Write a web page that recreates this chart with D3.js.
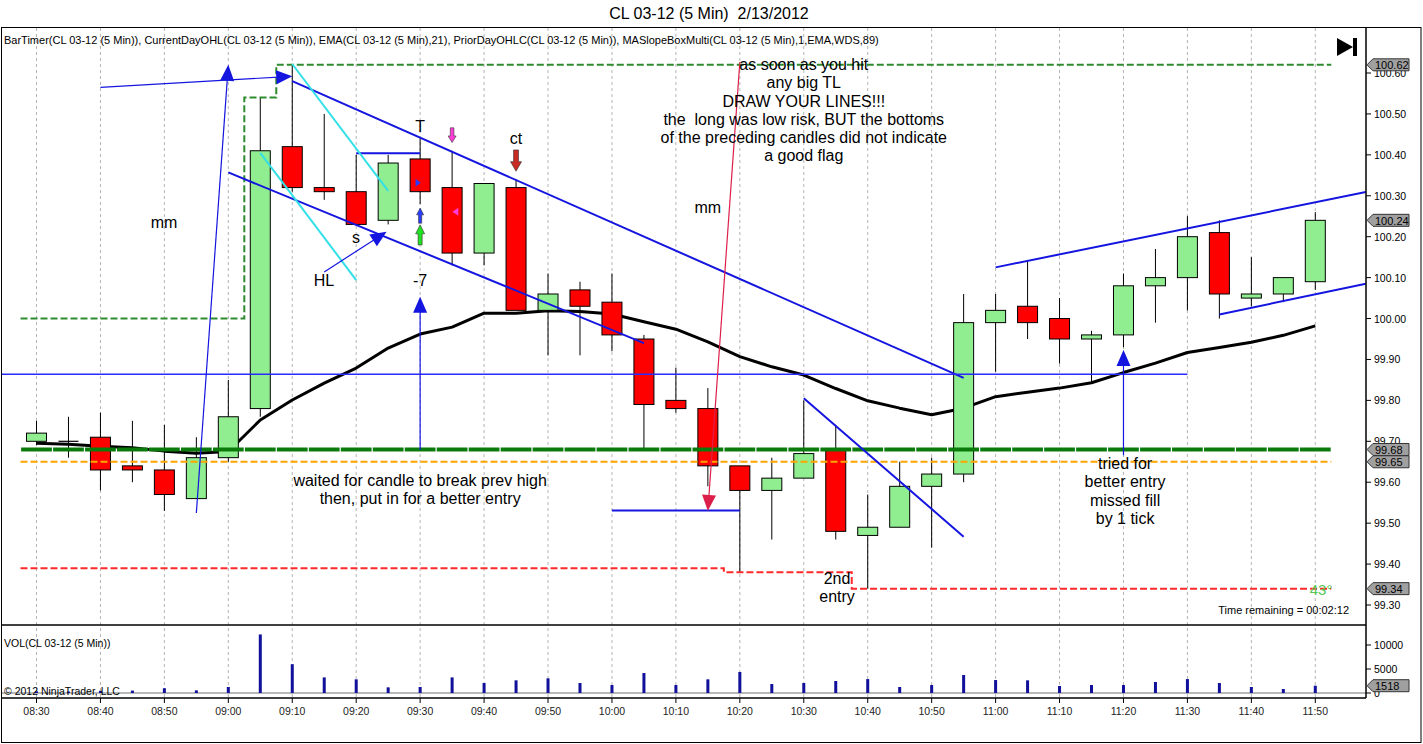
<!DOCTYPE html>
<html><head><meta charset="utf-8">
<script src="https://cdn.jsdelivr.net/npm/d3@7"></script>
<style>
body{margin:0;background:#fff;}
text{font-family:"Liberation Sans",Arial,sans-serif;white-space:pre;}
</style>
</head><body>
<svg id="c" width="1423" height="744"></svg>
<script>
// ---------------- DATA ----------------
const times = ["08:30","08:35","08:40","08:45","08:50","08:55","09:00","09:05","09:10","09:15",
  "09:20","09:25","09:30","09:35","09:40","09:45","09:50","09:55","10:00","10:05",
  "10:10","10:15","10:20","10:25","10:30","10:35","10:40","10:45","10:50","10:55",
  "11:00","11:05","11:10","11:15","11:20","11:25","11:30","11:35","11:40","11:45","11:50"];
const opens  = [99.70,99.70,99.71,99.64,99.63,99.56,99.66,99.78,100.42,100.32,
  100.31,100.24,100.39,100.32,100.16,100.32,100.02,100.07,100.04,99.95,
  99.80,99.78,99.64,99.58,99.61,99.68,99.47,99.49,99.59,99.62,
  99.99,100.03,100.00,99.95,99.96,100.08,100.10,100.21,100.05,100.06,100.09];
const highs  = [99.75,99.76,99.77,99.75,99.74,99.71,99.85,100.54,100.62,100.50,
  100.40,100.40,100.44,100.41,100.33,100.34,100.11,100.09,100.11,99.96,
  99.88,99.83,99.64,99.66,99.80,99.74,99.57,99.65,99.66,100.06,
  100.06,100.14,100.05,99.97,100.11,100.17,100.25,100.24,100.15,100.10,100.26];
const lows   = [99.69,99.66,99.58,99.60,99.53,99.56,99.65,99.76,100.31,100.29,
  100.23,100.23,100.28,100.13,100.13,100.02,99.91,99.91,99.92,99.68,
  99.77,99.59,99.38,99.46,99.61,99.46,99.34,99.49,99.44,99.60,
  99.87,99.95,99.89,99.84,99.93,99.99,100.02,100.00,100.03,100.04,100.07];
const closes = [99.72,99.70,99.63,99.63,99.57,99.66,99.76,100.41,100.32,100.31,
  100.23,100.38,100.31,100.16,100.33,100.02,100.06,100.03,99.96,99.79,
  99.78,99.64,99.58,99.61,99.67,99.48,99.49,99.59,99.62,99.99,
  100.02,99.99,99.95,99.96,100.08,100.10,100.20,100.06,100.06,100.10,100.24];
const volumes = [350,300,450,500,1000,550,1250,12200,6000,3250,
  2850,1180,1250,3250,2080,2640,3050,2080,1660,4160,
  1660,2850,4370,1870,2080,2500,2900,1250,1660,3750,
  2700,2640,1460,1660,1660,2290,2900,2080,1250,830,1518];
const ema21 = [99.695,99.693,99.688,99.684,99.676,99.671,99.675,99.752,99.801,99.842,
  99.879,99.928,99.962,99.979,100.013,100.013,100.019,100.017,100.011,99.992,
  99.974,99.943,99.907,99.882,99.862,99.829,99.799,99.781,99.765,99.781,
  99.809,99.820,99.830,99.843,99.868,99.891,99.917,99.929,99.942,99.959,99.982];
const dayHigh = [100.00,100.00,100.00,100.00,100.00,100.00,100.00,100.54,100.62,100.62,
  100.62,100.62,100.62,100.62,100.62,100.62,100.62,100.62,100.62,100.62,
  100.62,100.62,100.62,100.62,100.62,100.62,100.62,100.62,100.62,100.62,
  100.62,100.62,100.62,100.62,100.62,100.62,100.62,100.62,100.62,100.62,100.62];
const dayLow = [99.39,99.39,99.39,99.39,99.39,99.39,99.39,99.39,99.39,99.39,
  99.39,99.39,99.39,99.39,99.39,99.39,99.39,99.39,99.39,99.39,
  99.39,99.39,99.38,99.38,99.38,99.38,99.34,99.34,99.34,99.34,
  99.34,99.34,99.34,99.34,99.34,99.34,99.34,99.34,99.34,99.34,99.34];
const priorClose = 99.68;
const priorLevel = 99.65;
const priceTicks = [100.60,100.50,100.40,100.30,100.20,100.10,100.00,99.90,99.80,99.70,99.60,99.50,99.40,99.30];
const volTicks = [0,5000,10000];
const xTickLabels = ["08:30","08:40","08:50","09:00","09:10","09:20","09:30","09:40","09:50","10:00",
  "10:10","10:20","10:30","10:40","10:50","11:00","11:10","11:20","11:30","11:40","11:50"];

// drawn trend lines: [barIndex, price] pairs
const trendLines = [
  {a:[8.0,100.580], b:[29.0,99.855], w:2, c:"#1515e0"},
  {a:[6.0,100.357], b:[19.0,99.940], w:2, c:"#1515e0"},
  {a:[10.0,100.404], b:[12.0,100.404], w:2, c:"#1515e0"},
  {a:[18.0,99.531], b:[22.0,99.531], w:2, c:"#1515e0"},
  {a:[24.0,99.805], b:[29.0,99.467], w:2, c:"#1515e0"},
  {a:[30.0,100.125], b:[41.58,100.309], w:2, c:"#1515e0"},
  {a:[37.0,100.010], b:[41.58,100.085], w:2, c:"#1515e0"},
  {a:[-1.1,99.864], b:[36.0,99.864], w:1.5, c:"#2a2aff"},
  {a:[8.0,100.622], b:[11.0,100.312], w:2, c:"#33e0e8"},
  {a:[7.0,100.405], b:[10.0,100.094], w:2, c:"#33e0e8"}
];
const arrowLines = [
  {a:[2.0,100.565], b:[8.0,100.592], c:"#1515e0", w:1.2},
  {a:[5.0,99.525], b:[6.0,100.620], c:"#1515e0", w:1.2},
  {a:[9.0,100.114], b:[10.95,100.212], c:"#1515e0", w:1.2},
  {a:[12.0,99.679], b:[12.0,100.053], c:"#1515e0", w:1.2},
  {a:[34.0,99.666], b:[34.0,99.923], c:"#1515e0", w:1.2},
  {a:[22.0,100.627], b:[21.0,99.530], c:"#dc1f4a", w:1.2}
];
// indicator markers
const blockArrows = [
  {i:12, top:100.270, bot:100.233, dir:"up", fill:"#2a3cff", hw:3.5},
  {i:12, top:100.229, bot:100.180, dir:"up", fill:"#22e022", hw:4.5},
  {i:13, top:100.466, bot:100.430, dir:"down", fill:"#ff3cd8", hw:4},
  {i:15, top:100.412, bot:100.360, dir:"down", fill:"#c82a24", hw:5.5}
];
const smallTriangles = [
  {i:11.92, p:100.332, dir:"right", fill:"#2a3cff"},
  {i:13.10, p:100.261, dir:"left", fill:"#ff3cd8"}
];
const notes = [
  {i:3.99, p:100.236, lines:["mm"]},
  {i:9.99, p:100.199, lines:["s"]},
  {i:8.99, p:100.094, lines:["HL"]},
  {i:12, p:100.471, lines:["T"]},
  {i:12, p:100.094, lines:["-7"]},
  {i:15, p:100.442, lines:["ct"]},
  {i:21, p:100.273, lines:["mm"]},
  {i:24.0, p:100.622, lines:["as soon as you hit","any big TL","DRAW YOUR LINES!!!","the  long was low risk, BUT the bottoms","of the preceding candles did not indicate","a good flag"]},
  {i:12, p:99.605, lines:["waited for candle to break prev high","then, put in for a better entry"]},
  {i:25.04, p:99.366, lines:["2nd","entry"]},
  {i:34.05, p:99.647, lines:["tried for","better entry","missed fill","by 1 tick"]}
];
const slopeLabel = {i:40.18, p:99.337, text:"43°"};
const titleText = "CL 03-12 (5 Min)  2/13/2012";
const legendText = "BarTimer(CL 03-12 (5 Min)), CurrentDayOHL(CL 03-12 (5 Min)), EMA(CL 03-12 (5 Min),21), PriorDayOHLC(CL 03-12 (5 Min)), MASlopeBoxMulti(CL 03-12 (5 Min),1,EMA,WDS,89)";

// ---------------- LAYOUT ----------------
const svg = d3.select("#c");
const L = 2, R = 1366, T = 28, PB = 625, VB = 698;
const x = d3.scaleLinear().domain([0, 40]).range([36.5, 1315.3]);
const y = d3.scaleLinear().domain([99.30, 100.60]).range([605, 73]);
const yv = d3.scaleLinear().domain([0, 10000]).range([693, 645]);
const half = (x(1) - x(0)) / 2;
const bodyW = 20;

svg.append("rect").attr("width",1423).attr("height",744).attr("fill","#fff");
const defs = svg.append("defs");
defs.append("clipPath").attr("id","pc").append("rect").attr("x",L).attr("y",T).attr("width",R-L).attr("height",PB-T);

// title
svg.append("text").attr("x",709).attr("y",19).attr("text-anchor","middle")
  .style("font-size","16px").attr("fill","#000").text(titleText);

// grid lines
const gridIdx = xTickLabels.map(t => times.indexOf(t));
svg.append("g").selectAll("line").data(gridIdx).join("line")
  .attr("x1",d=>x(d)).attr("x2",d=>x(d)).attr("y1",T).attr("y2",VB)
  .attr("stroke","#b4b4b4").attr("stroke-dasharray","3,3").attr("stroke-width",1);

const P = svg.append("g").attr("clip-path","url(#pc)");

// EMA
P.append("path").datum(ema21).attr("fill","none").attr("stroke","#000").attr("stroke-width",3)
  .attr("stroke-linejoin","round")
  .attr("d", d3.line().x((d,i)=>x(i)).y(d=>y(d)));

// candles
const cg = P.append("g");
times.forEach((t,i)=>{
  cg.append("line").attr("x1",x(i)).attr("x2",x(i)).attr("y1",y(highs[i])).attr("y2",y(lows[i]))
    .attr("stroke","#000").attr("stroke-width",1);
  const o = opens[i], c = closes[i];
  if (Math.abs(o-c) < 1e-9) {
    cg.append("line").attr("x1",x(i)-bodyW/2).attr("x2",x(i)+bodyW/2).attr("y1",y(o)).attr("y2",y(o))
      .attr("stroke","#000").attr("stroke-width",1.2);
  } else {
    const top = y(Math.max(o,c)), bot = y(Math.min(o,c));
    cg.append("rect").attr("x",x(i)-bodyW/2).attr("y",top).attr("width",bodyW).attr("height",bot-top)
      .attr("fill", c>o ? "#90ee90" : "#ff0000").attr("stroke","#000").attr("stroke-width",1);
  }
});

// step level lines
function stepPts(arr){ const pts=[]; arr.forEach((v,i)=>{pts.push([x(i)-half,y(v)]);pts.push([x(i)+half,y(v)]);}); return pts; }
P.append("path").attr("d", d3.line()(stepPts(dayHigh))).attr("fill","none")
  .attr("stroke","#2e8b2e").attr("stroke-width",2).attr("stroke-dasharray","7,3");
P.append("path").attr("d", d3.line()(stepPts(dayLow))).attr("fill","none")
  .attr("stroke","#ff2a2a").attr("stroke-width",2).attr("stroke-dasharray","7,3");
// prior close (segmented per bar)
P.append("g").selectAll("line").data(times).join("line")
  .attr("x1",(d,i)=>x(i)-half+0.6).attr("x2",(d,i)=>x(i)+half-0.6)
  .attr("y1",y(priorClose)).attr("y2",y(priorClose))
  .attr("stroke","#0a7a0a").attr("stroke-width",4);
P.append("path").attr("d", d3.line()([[x(0)-half,y(priorLevel)],[x(times.length-1)+half,y(priorLevel)]]))
  .attr("stroke","#ffa500").attr("stroke-width",2).attr("stroke-dasharray","7,3");

// trend lines
P.append("g").selectAll("line").data(trendLines).join("line")
  .attr("x1",d=>x(d.a[0])).attr("y1",d=>y(d.a[1])).attr("x2",d=>x(d.b[0])).attr("y2",d=>y(d.b[1]))
  .attr("stroke",d=>d.c).attr("stroke-width",d=>d.w);

// arrow lines
arrowLines.forEach(d=>{
  const x1=x(d.a[0]), y1=y(d.a[1]), x2=x(d.b[0]), y2=y(d.b[1]);
  const len=Math.hypot(x2-x1,y2-y1), ux=(x2-x1)/len, uy=(y2-y1)/len;
  const hl=16, hw=7;
  P.append("line").attr("x1",x1).attr("y1",y1).attr("x2",x2-ux*hl*0.6).attr("y2",y2-uy*hl*0.6)
    .attr("stroke",d.c).attr("stroke-width",d.w);
  const bx=x2-ux*hl, by=y2-uy*hl;
  P.append("path").attr("d",`M${x2},${y2}L${bx-uy*hw},${by+ux*hw}L${bx+uy*hw},${by-ux*hw}Z`)
    .attr("fill",d.c);
});

// indicator arrows
blockArrows.forEach(d=>{
  const cx=x(d.i), yt=y(d.top), yb=y(d.bot), h=yb-yt, hh=h*0.45, s=d.hw*0.45;
  let p;
  if(d.dir==="up") p=`M${cx},${yt}L${cx+d.hw},${yt+hh}L${cx+s},${yt+hh}L${cx+s},${yb}L${cx-s},${yb}L${cx-s},${yt+hh}L${cx-d.hw},${yt+hh}Z`;
  else p=`M${cx},${yb}L${cx+d.hw},${yb-hh}L${cx+s},${yb-hh}L${cx+s},${yt}L${cx-s},${yt}L${cx-s},${yb-hh}L${cx-d.hw},${yb-hh}Z`;
  P.append("path").attr("d",p).attr("fill",d.fill).attr("stroke","#333").attr("stroke-width",0.6);
});
smallTriangles.forEach(d=>{
  const cx=x(d.i), cy=y(d.p);
  const p = d.dir==="right" ? `M${cx+3},${cy}L${cx-2},${cy-4}L${cx-2},${cy+4}Z` : `M${cx-3},${cy}L${cx+3},${cy-4}L${cx+3},${cy+4}Z`;
  P.append("path").attr("d",p).attr("fill",d.fill);
});

// notes
notes.forEach(n=>{
  const t = P.append("text").attr("x",x(n.i)).attr("y",y(n.p)).attr("text-anchor","middle")
    .attr("dominant-baseline","central").style("font-size","16px").attr("fill","#000");
  n.lines.forEach((ln,k)=>t.append("tspan").attr("x",x(n.i)).attr("dy",k===0?0:18.3).text(ln));
});
P.append("text").attr("x",x(slopeLabel.i)).attr("y",y(slopeLabel.p)).attr("text-anchor","middle")
  .attr("dominant-baseline","central").style("font-size","15px").attr("fill","#55c855").text(slopeLabel.text);

// legend / bar timer
svg.append("text").attr("x",4).attr("y",44).style("font-size","11px").attr("fill","#000").text(legendText);
svg.append("text").attr("x",1349).attr("y",614).attr("text-anchor","end").style("font-size","11px").attr("fill","#000")
  .text("Time remaining = 00:02:12");

// playback icon
svg.append("path").attr("d","M1337,38L1353,47L1337,56Z").attr("fill","#000");
svg.append("rect").attr("x",1353).attr("y",38).attr("width",4).attr("height",18).attr("fill","#000");

// volume panel
svg.append("line").attr("x1",L).attr("x2",R).attr("y1",yv(0)).attr("y2",yv(0)).attr("stroke","#a0a0a0").attr("stroke-width",1.5);
svg.append("g").selectAll("rect").data(volumes).join("rect")
  .attr("x",(d,i)=>x(i)-1.5).attr("width",3).attr("y",d=>yv(d)).attr("height",d=>yv(0)-yv(d))
  .attr("fill","#10109a");
svg.append("text").attr("x",4).attr("y",647).style("font-size","10.5px").attr("fill","#000").text("VOL(CL 03-12 (5 Min))");
svg.append("text").attr("x",4).attr("y",695).style("font-size","10.5px").attr("fill","#000").text("© 2012 NinjaTrader, LLC");

// frame
svg.append("rect").attr("x",1.5).attr("y",27.5).attr("width",1419.5).attr("height",715).attr("fill","none").attr("stroke","#000");
svg.append("line").attr("x1",L).attr("x2",R).attr("y1",PB).attr("y2",PB).attr("stroke","#000").attr("stroke-width",1.5);
svg.append("line").attr("x1",L).attr("x2",R).attr("y1",VB).attr("y2",VB).attr("stroke","#000").attr("stroke-width",1.5);
svg.append("line").attr("x1",R).attr("x2",R).attr("y1",T).attr("y2",VB).attr("stroke","#000").attr("stroke-width",1.5);

// price axis
const ya = svg.append("g");
priceTicks.forEach(v=>{
  ya.append("line").attr("x1",R).attr("x2",R+5).attr("y1",y(v)).attr("y2",y(v)).attr("stroke","#000");
  ya.append("text").attr("x",R+8).attr("y",y(v)).attr("dominant-baseline","central").style("font-size","10.5px").attr("fill","#000").text(v.toFixed(2));
});
volTicks.forEach(v=>{
  ya.append("line").attr("x1",R).attr("x2",R+5).attr("y1",yv(v)).attr("y2",yv(v)).attr("stroke","#000");
  ya.append("text").attr("x",R+8).attr("y",yv(v)).attr("dominant-baseline","central").style("font-size","10.5px").attr("fill","#000").text(v);
});
// x axis
gridIdx.forEach((d,k)=>{
  svg.append("line").attr("x1",x(d)).attr("x2",x(d)).attr("y1",VB).attr("y2",VB+5).attr("stroke","#000");
  svg.append("text").attr("x",x(d)).attr("y",711).attr("text-anchor","middle").attr("dominant-baseline","central")
    .style("font-size","10.5px").attr("fill","#222").text(xTickLabels[k]);
});

// value tags
function tag(yy, label){
  const g = svg.append("g");
  g.append("path").attr("d",`M${R+1},${yy}L${R+7},${yy-6}L${R+43},${yy-6}L${R+43},${yy+6}L${R+7},${yy+6}Z`)
    .attr("fill","#a0a0a0").attr("stroke","#333").attr("stroke-width",1);
  g.append("text").attr("x",R+9).attr("y",yy+0.5).attr("dominant-baseline","central").style("font-size","11px").attr("fill","#000").text(label);
}
const last = times.length-1;
tag(y(dayHigh[last]), dayHigh[last].toFixed(2));
tag(y(closes[last]), closes[last].toFixed(2));
tag(y(priorClose), priorClose.toFixed(2));
tag(y(priorLevel), priorLevel.toFixed(2));
tag(y(dayLow[last]), dayLow[last].toFixed(2));
tag(yv(volumes[last]), String(volumes[last]));
</script>
</body></html>
